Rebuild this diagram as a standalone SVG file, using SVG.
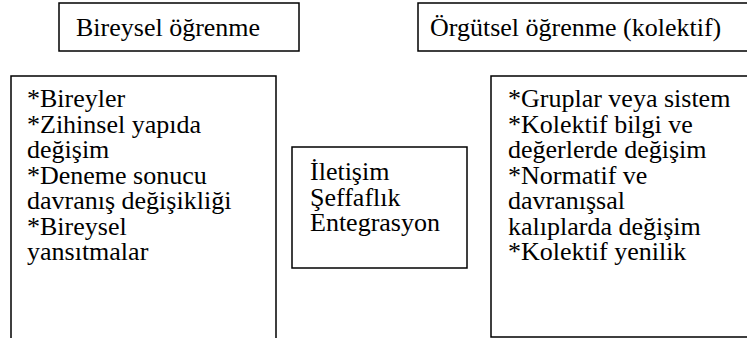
<svg xmlns="http://www.w3.org/2000/svg" width="747" height="338" viewBox="0 0 747 338" font-family="Liberation Serif, Tinos, Times New Roman, serif">
<style>
text{font-family:"Liberation Serif",Tinos,"Times New Roman",serif;font-size:26px;fill:#000}
.box{fill:none;stroke:#000;stroke-width:1.5}
</style>
<rect width="747" height="338" fill="#fff"/>
<g id="title-bireysel">
<rect class="box" x="59" y="3" width="240" height="48"/>
<text x="76" y="36">Bireysel öğrenme</text>
</g>
<g id="title-orgutsel">
<path class="box" d="M747,3 H418 V51 H747"/>
<text x="430" y="36">Örgütsel öğrenme (kolektif)</text>
</g>
<g id="bireysel">
<path class="box" d="M11,338 V76 H276 V338"/>
<text x="27" y="107">*Bireyler</text>
<text x="27" y="132.5">*Zihinsel yapıda</text>
<text x="27" y="158">değişim</text>
<text x="27" y="183.5">*Deneme sonucu</text>
<text x="27" y="209">davranış değişikliği</text>
<text x="27" y="234.5">*Bireysel</text>
<text x="27" y="260">yansıtmalar</text>
</g>
<g id="orgutsel">
<path class="box" d="M747,76 H491 V337 H747"/>
<text x="508" y="107">*Gruplar veya sistem</text>
<text x="508" y="132.5">*Kolektif bilgi ve</text>
<text x="508" y="158">değerlerde değişim</text>
<text x="508" y="183.5">*Normatif ve</text>
<text x="508" y="209">davranışsal</text>
<text x="508" y="234.5">kalıplarda değişim</text>
<text x="508" y="260">*Kolektif yenilik</text>
</g>
<g id="iletisim">
<rect class="box" x="292" y="147" width="175" height="121"/>
<text x="310" y="180">İletişim</text>
<text x="310" y="205.5">Şeffaflık</text>
<text x="310" y="231">Entegrasyon</text>
</g>
<g id="connectors"></g>
</svg>
